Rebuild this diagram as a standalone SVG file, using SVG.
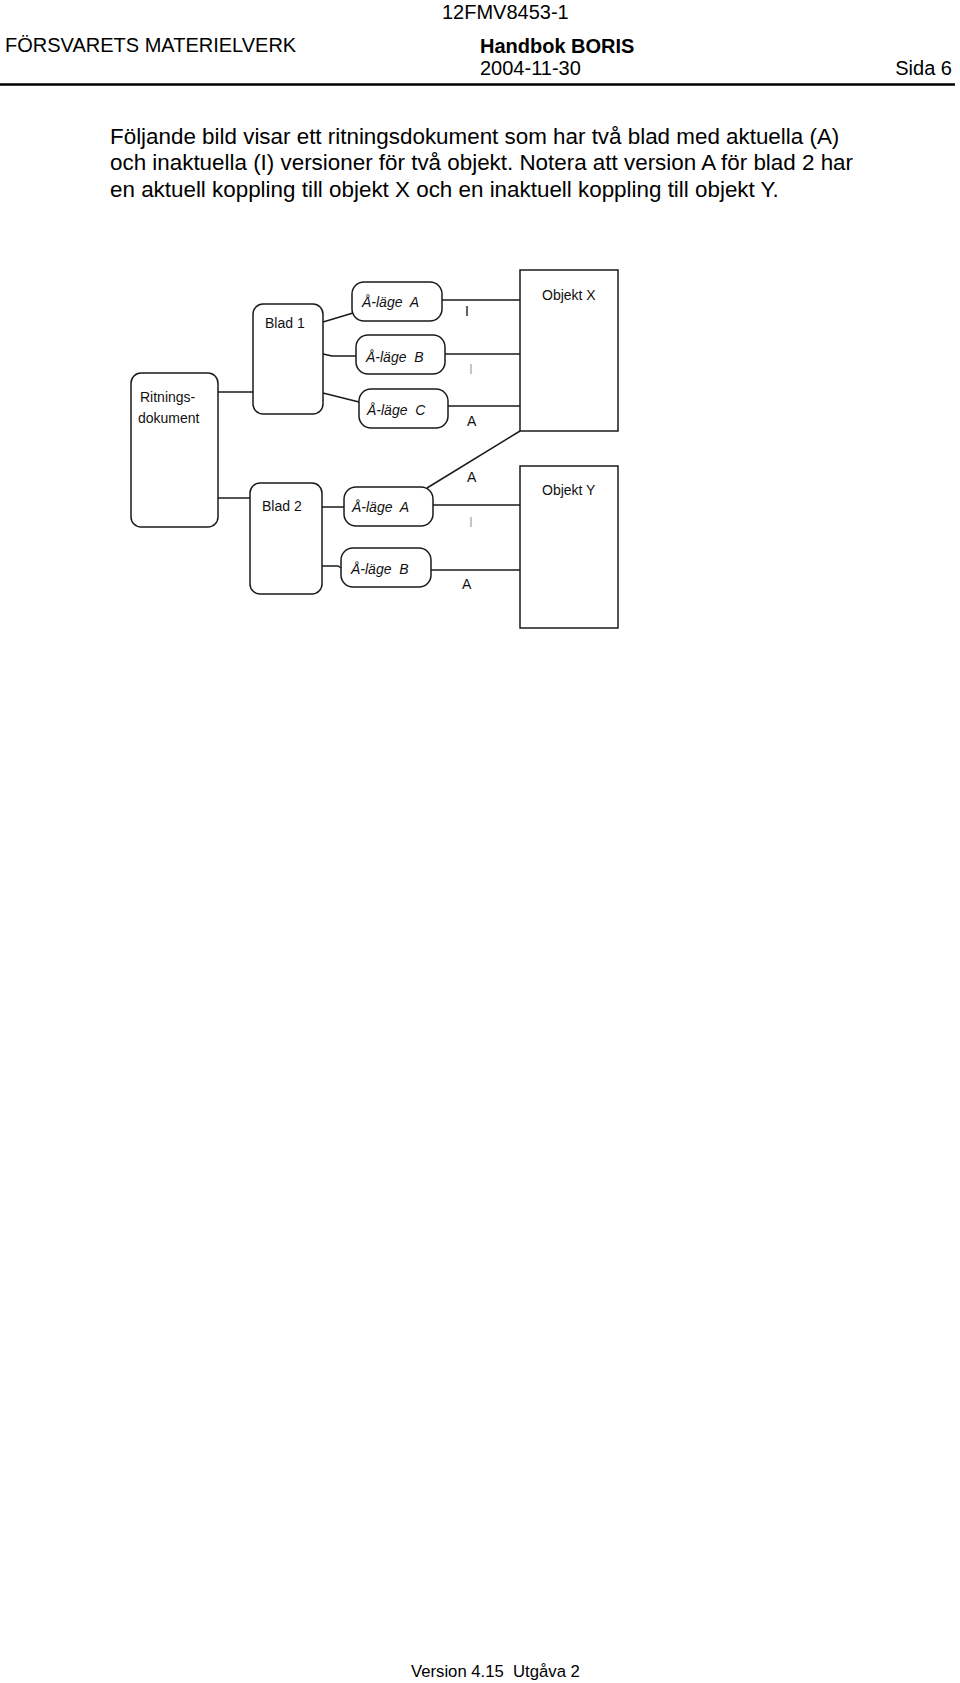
<svg xmlns="http://www.w3.org/2000/svg" width="960" height="1683" viewBox="0 0 960 1683">
<style>
.hd{font-family:"Liberation Sans",Arial,sans-serif;font-size:20px;fill:#000}
.bd{font-family:"Liberation Sans",Arial,sans-serif;font-size:22.4px;fill:#000}
.ft{font-family:"Liberation Sans",Arial,sans-serif;font-size:16.7px;fill:#000}
.lbl{font-family:"Liberation Sans",Arial,sans-serif;font-size:14px;fill:#111;white-space:pre}
.it{font-style:italic}
.grey{fill:#aaa}
.box{fill:#fff;stroke:#1a1a1a;stroke-width:1.5}
.con{fill:none;stroke:#1a1a1a;stroke-width:1.5}
</style>
<rect width="960" height="1683" fill="#fff"/>
<g id="header">
<text class="hd" x="442" y="19">12FMV8453-1</text>
<text class="hd" x="5" y="52">FÖRSVARETS MATERIELVERK</text>
<text class="hd" x="480" y="53" font-weight="bold">Handbok BORIS</text>
<text class="hd" x="480" y="75">2004-11-30</text>
<text class="hd" x="952" y="75" text-anchor="end">Sida 6</text>
<line x1="0" y1="84.5" x2="955" y2="84.5" stroke="#000" stroke-width="2.5"/>
</g>
<g id="intro">
<text class="bd" x="110" y="143.5">Följande bild visar ett ritningsdokument som har två blad med aktuella (A)</text>
<text class="bd" x="110" y="170">och inaktuella (I) versioner för två objekt. Notera att version A för blad 2 har</text>
<text class="bd" x="110" y="196.7">en aktuell koppling till objekt X och en inaktuell koppling till objekt Y.</text>
</g>
<g id="connectors">
<line class="con" x1="218" y1="392" x2="253" y2="392"/>
<line class="con" x1="218" y1="498" x2="250" y2="498"/>
<line class="con" x1="323" y1="322" x2="353" y2="313"/>
<polyline class="con" points="323,354 332,356 356,356"/>
<line class="con" x1="323" y1="393" x2="359" y2="402"/>
<line class="con" x1="322" y1="507" x2="344" y2="507"/>
<polyline class="con" points="322,566 338,566 341,568"/>
<line class="con" x1="442" y1="300" x2="520" y2="300"/>
<line class="con" x1="445" y1="354" x2="520" y2="354"/>
<line class="con" x1="448" y1="406" x2="520" y2="406"/>
<line class="con" x1="427" y1="488" x2="520" y2="431"/>
<line class="con" x1="433" y1="505" x2="520" y2="505"/>
<line class="con" x1="431" y1="570" x2="520" y2="570"/>
<text class="lbl" x="465" y="316">I</text>
<text class="lbl grey" x="469" y="374">I</text>
<text class="lbl" x="467" y="426">A</text>
<text class="lbl" x="467" y="482">A</text>
<text class="lbl grey" x="469" y="527">I</text>
<text class="lbl" x="462" y="589">A</text>
</g>
<g id="ritningsdokument">
<rect class="box" x="131" y="373" width="87" height="154" rx="10"/>
<text class="lbl" x="140" y="402">Ritnings-</text>
<text class="lbl" x="138" y="423">dokument</text>
</g>
<g id="blad1">
<rect class="box" x="253" y="304" width="70" height="110" rx="10"/>
<text class="lbl" x="265" y="328">Blad 1</text>
</g>
<g id="blad2">
<rect class="box" x="250" y="483" width="72" height="111" rx="10"/>
<text class="lbl" x="262" y="511">Blad 2</text>
</g>
<g id="b1-alage-a">
<rect class="box" x="352" y="282" width="90" height="39" rx="12"/>
<text class="lbl it" x="362" y="307">Å-läge  A</text>
</g>
<g id="b1-alage-b">
<rect class="box" x="356" y="335" width="89" height="39" rx="12"/>
<text class="lbl it" x="366" y="362">Å-läge  B</text>
</g>
<g id="b1-alage-c">
<rect class="box" x="359" y="389" width="89" height="39" rx="12"/>
<text class="lbl it" x="367" y="415">Å-läge  C</text>
</g>
<g id="b2-alage-a">
<rect class="box" x="344" y="487" width="89" height="39" rx="12"/>
<text class="lbl it" x="352" y="512">Å-läge  A</text>
</g>
<g id="b2-alage-b">
<rect class="box" x="341" y="548" width="90" height="39" rx="12"/>
<text class="lbl it" x="351" y="574">Å-läge  B</text>
</g>
<g id="objekt-x">
<rect class="box" x="520" y="270" width="98" height="161"/>
<text class="lbl" x="542" y="300">Objekt X</text>
</g>
<g id="objekt-y">
<rect class="box" x="520" y="466" width="98" height="162"/>
<text class="lbl" x="542" y="495">Objekt Y</text>
</g>
<g id="footer">
<text class="ft" x="411" y="1677" style="white-space:pre">Version 4.15  Utgåva 2</text>
</g>
</svg>
